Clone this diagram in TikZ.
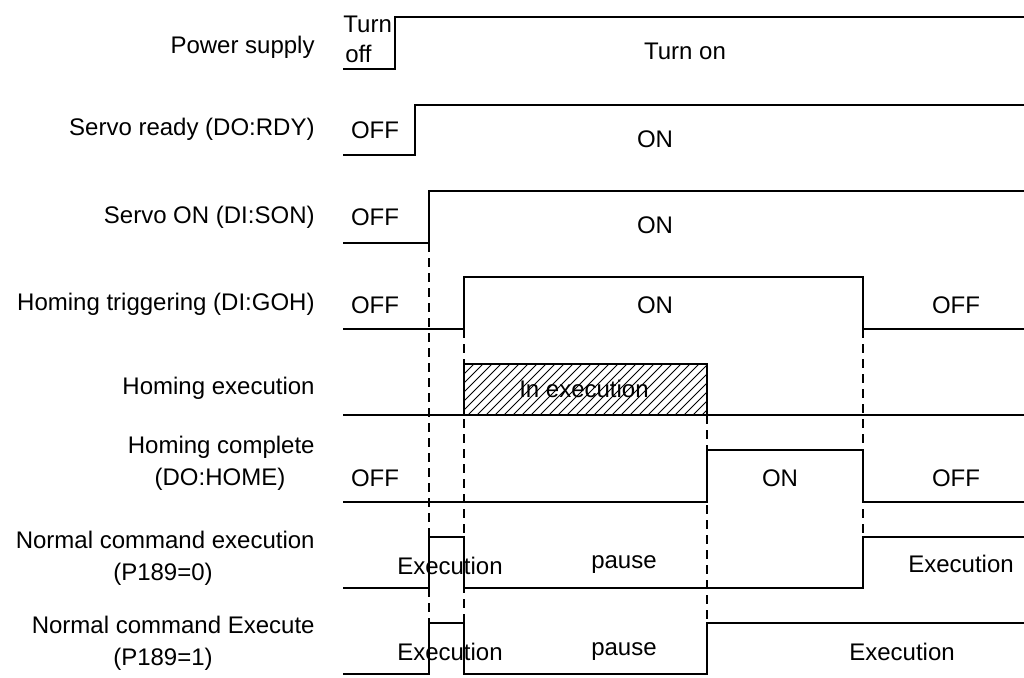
\documentclass[tikz,border=0pt]{standalone}
\usepackage{fontspec}
\setmainfont{Liberation Sans}
\begin{document}
\begin{tikzpicture}[x=0.5pt,y=-0.5pt,
  wave/.style={line width=0.9pt, line join=miter},
  guide/.style={line width=0.9pt, dash pattern=on 4.5pt off 3pt},
  hatch/.style={line width=0.5pt},
  txt/.style={font=\fontsize{12}{16}\selectfont, inner sep=0pt},
  rlbl/.style={txt, anchor=base east},
  clbl/.style={txt, anchor=base},
  llbl/.style={txt, anchor=base west}]
\useasboundingbox (0,0) rectangle (1024,677);

% ---- row labels
\node[rlbl] (lpow) at (315,53) {Power supply};
\node[rlbl] (lrdy) at (315,135) {Servo ready (DO:RDY)};
\node[rlbl] (lson) at (315,223) {Servo ON (DI:SON)};
\node[rlbl] (lgoh) at (315,310) {Homing triggering (DI:GOH)};
\node[rlbl] (lhex) at (315,394) {Homing execution};
\node[rlbl] (lhc1) at (315,453) {Homing complete};
\node[clbl] (lhc2) at (220,485) {(DO:HOME)};
\node[rlbl] (lp01) at (315,548) {Normal command execution};
\node[clbl] (lp02) at (163,580) {(P189=0)};
\node[rlbl] (lp11) at (315,633) {Normal command Execute};
\node[clbl] (lp12) at (163,665) {(P189=1)};

% ---- hatched box (homing execution)
\begin{scope}
  \clip (464,364) rectangle (707,415);
  \foreach \k in {405,414,...,720} {
    \draw[hatch] (\k,415) -- (\k+51,364);
  }
\end{scope}
\draw[wave] (464,415) rectangle (707,364);

% ---- guide (dashed) lines
\draw[guide] (429,243) -- (429,623);
\draw[guide] (464,329) -- (464,623);
\draw[guide] (707,415) -- (707,623);
\draw[guide] (863,329) -- (863,537);

% ---- waveforms
\draw[wave] (343,69) -- (395,69) -- (395,17) -- (1024,17);
\draw[wave] (343,155) -- (415,155) -- (415,105) -- (1024,105);
\draw[wave] (343,243) -- (429,243) -- (429,191) -- (1024,191);
\draw[wave] (343,329) -- (464,329) -- (464,277) -- (863,277) -- (863,329) -- (1024,329);
\draw[wave] (343,415) -- (1024,415);
\draw[wave] (343,502) -- (707,502) -- (707,450) -- (863,450) -- (863,502) -- (1024,502);
\draw[wave] (343,588) -- (429,588) -- (429,537) -- (464,537) -- (464,588) -- (863,588) -- (863,537) -- (1024,537);
\draw[wave] (343,674) -- (429,674) -- (429,623) -- (464,623) -- (464,674) -- (707,674) -- (707,623) -- (1024,623);

% ---- state labels
\node[llbl] (tturn) at (343,32) {Turn};
\node[llbl] (toff) at (345,62) {off};
\node[clbl] (ton) at (685,59) {Turn on};
\node[clbl] (rdyoff) at (375,138) {OFF};
\node[clbl] (rdyon) at (655,147) {ON};
\node[clbl] (sonoff) at (375,225) {OFF};
\node[clbl] (sonon) at (655,233) {ON};
\node[clbl] (gohoff) at (375,313) {OFF};
\node[clbl] (gohon) at (655,313) {ON};
\node[clbl] (gohoff2) at (956,313) {OFF};
\node[clbl] (inexec) at (584,397) {In execution};
\node[clbl] (hcoff) at (375,486) {OFF};
\node[clbl] (hcon) at (780,486) {ON};
\node[clbl] (hcoff2) at (956,486) {OFF};
\node[clbl] (p0ex) at (450,574) {Execution};
\node[clbl] (p0pa) at (624,568) {pause};
\node[clbl] (p0ex2) at (961,572) {Execution};
\node[clbl] (p1ex) at (450,660) {Execution};
\node[clbl] (p1pa) at (624,655) {pause};
\node[clbl] (p1ex2) at (902,660) {Execution};
\end{tikzpicture}
\end{document}
